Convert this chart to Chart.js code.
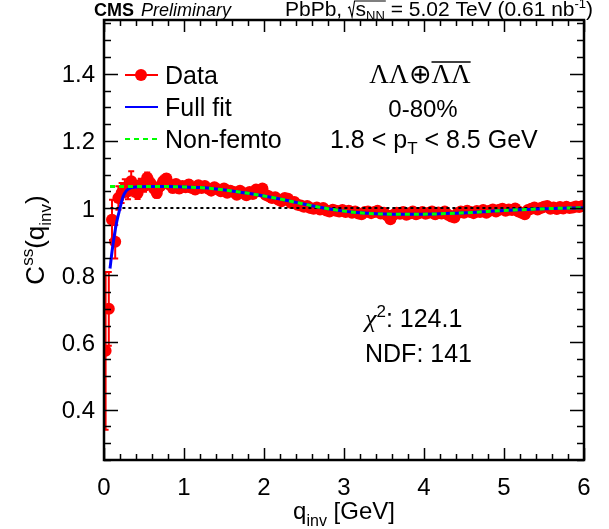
<!DOCTYPE html>
<html>
<head>
<meta charset="utf-8">
<script src="https://cdn.jsdelivr.net/npm/chart.js@4.4.0/dist/chart.umd.min.js"></script>
<style>
html, body { margin: 0; padding: 0; background: #fff; }
</style>
</head>
<body>
<canvas id="chart" width="609" height="529"></canvas>
<script>
// bin centres (GeV) and correlation values
const qInv = [
  0.02, 0.06, 0.10, 0.14, 0.18, 0.22, 0.26, 0.30, 0.34, 0.38,
  0.42, 0.46, 0.50, 0.54, 0.58, 0.62, 0.66, 0.70, 0.74, 0.78,
  0.82, 0.86, 0.90, 0.94, 0.98, 1.02, 1.06, 1.10, 1.14, 1.18,
  1.22, 1.26, 1.30, 1.34, 1.38, 1.42, 1.46, 1.50, 1.54, 1.58,
  1.62, 1.66, 1.70, 1.74, 1.78, 1.82, 1.86, 1.90, 1.94, 1.98,
  2.02, 2.06, 2.10, 2.14, 2.18, 2.22, 2.26, 2.30, 2.34, 2.38,
  2.42, 2.46, 2.50, 2.54, 2.58, 2.62, 2.66, 2.70, 2.74, 2.78,
  2.82, 2.86, 2.90, 2.94, 2.98, 3.02, 3.06, 3.10, 3.14, 3.18,
  3.22, 3.26, 3.30, 3.34, 3.38, 3.42, 3.46, 3.50, 3.54, 3.58,
  3.62, 3.66, 3.70, 3.74, 3.78, 3.82, 3.86, 3.90, 3.94, 3.98,
  4.02, 4.06, 4.10, 4.14, 4.18, 4.22, 4.26, 4.30, 4.34, 4.38,
  4.42, 4.46, 4.50, 4.54, 4.58, 4.62, 4.66, 4.70, 4.74, 4.78,
  4.82, 4.86, 4.90, 4.94, 4.98, 5.02, 5.06, 5.10, 5.14, 5.18,
  5.22, 5.26, 5.30, 5.34, 5.38, 5.42, 5.46, 5.50, 5.54, 5.58,
  5.62, 5.66, 5.70, 5.74, 5.78, 5.82, 5.86, 5.90, 5.94, 5.98
];
const cValues = [
  0.575, 0.700, 0.965, 0.900, 1.030, 1.045, 1.060, 1.050, 1.080, 1.055,
  1.045, 1.070, 1.065, 1.090, 1.075, 1.060, 1.045, 1.065, 1.080, 1.088,
  1.070, 1.060, 1.072, 1.058, 1.066, 1.062, 1.070, 1.060, 1.055, 1.068,
  1.060, 1.066, 1.058, 1.052, 1.062, 1.056, 1.050, 1.058, 1.046, 1.052,
  1.048, 1.040, 1.052, 1.045, 1.038, 1.048, 1.042, 1.055, 1.050, 1.058,
  1.040, 1.035, 1.030, 1.032, 1.025, 1.020, 1.030, 1.028, 1.015, 1.018,
  1.010, 1.008, 1.004, 1.006, 1.000, 0.998, 1.002, 0.996, 1.000, 0.993,
  0.990, 0.995, 0.992, 0.990, 0.994, 0.988, 0.992, 0.986, 0.990, 0.984,
  0.982, 0.988, 0.990, 0.985, 0.988, 0.992, 0.984, 0.986, 0.978, 0.967,
  0.980, 0.986, 0.983, 0.988, 0.980, 0.984, 0.990, 0.982, 0.985, 0.988,
  0.983, 0.986, 0.990, 0.982, 0.987, 0.984, 0.990, 0.980, 0.975, 0.972,
  0.985, 0.990, 0.986, 0.992, 0.988, 0.985, 0.991, 0.988, 0.994, 0.986,
  0.992, 0.996, 0.990, 0.995, 0.998, 0.992, 0.996, 0.994, 0.999, 0.990,
  0.986, 0.982, 0.994, 0.998, 1.002, 0.996, 1.000, 1.004, 1.006, 0.998,
  1.002, 0.997, 1.003, 0.999, 1.004, 1.000, 1.002, 1.005, 1.003, 1.006
];
const cErrors = [
  0.235, 0.110, 0.060, 0.050, 0.035, 0.030, 0.026, 0.024, 0.030, 0.020,
  0.018, 0.017, 0.016, 0.016, 0.015, 0.015, 0.014, 0.014, 0.014, 0.013,
  0.013, 0.013, 0.012, 0.012, 0.012, 0.012, 0.012, 0.011, 0.011, 0.011,
  0.011, 0.011, 0.011, 0.011, 0.010, 0.010, 0.010, 0.010, 0.010, 0.010,
  0.010, 0.010, 0.010, 0.010, 0.010, 0.010, 0.010, 0.010, 0.010, 0.010,
  0.010, 0.010, 0.010, 0.010, 0.009, 0.009, 0.009, 0.009, 0.009, 0.009,
  0.009, 0.009, 0.009, 0.009, 0.009, 0.009, 0.009, 0.009, 0.009, 0.009,
  0.009, 0.009, 0.009, 0.009, 0.009, 0.009, 0.009, 0.009, 0.009, 0.009,
  0.009, 0.009, 0.009, 0.009, 0.009, 0.009, 0.009, 0.009, 0.009, 0.009,
  0.009, 0.009, 0.009, 0.009, 0.009, 0.009, 0.009, 0.009, 0.009, 0.009,
  0.009, 0.009, 0.009, 0.009, 0.009, 0.009, 0.009, 0.009, 0.009, 0.009,
  0.009, 0.009, 0.009, 0.009, 0.009, 0.009, 0.009, 0.009, 0.009, 0.009,
  0.009, 0.009, 0.009, 0.009, 0.009, 0.009, 0.009, 0.009, 0.009, 0.009,
  0.009, 0.009, 0.009, 0.009, 0.009, 0.009, 0.009, 0.009, 0.009, 0.009,
  0.009, 0.009, 0.009, 0.009, 0.009, 0.009, 0.009, 0.009, 0.009, 0.009
];

// fit curves
const fullFitX = [0.075, 0.10, 0.13, 0.16, 0.20, 0.24, 0.28, 0.33, 0.40, 0.60, 0.80, 1.00, 1.20, 1.40, 1.60, 1.80,
  2.00, 2.20, 2.40, 2.60, 2.80, 3.00, 3.20, 3.40, 3.60, 3.80, 4.00, 4.20, 4.40, 4.60, 4.80, 5.00, 5.20, 5.40, 5.60, 5.80, 6.00];
const fullFitY = [0.820, 0.870, 0.920, 0.960, 1.000, 1.035, 1.052, 1.060, 1.063, 1.064, 1.064, 1.063, 1.061, 1.057, 1.051, 1.044,
  1.036, 1.027, 1.017, 1.007, 0.998, 0.991, 0.986, 0.983, 0.982, 0.982, 0.982, 0.983, 0.985, 0.987, 0.990, 0.993, 0.995, 0.997, 0.999, 1.000, 1.001];
const nonFemtoX = [0.075, 0.20, 0.40, 0.60, 0.80, 1.00, 1.20, 1.40, 1.60, 1.80,
  2.00, 2.20, 2.40, 2.60, 2.80, 3.00, 3.20, 3.40, 3.60, 3.80, 4.00, 4.20, 4.40, 4.60, 4.80, 5.00, 5.20, 5.40, 5.60, 5.80, 6.00];
const nonFemtoY = [1.064, 1.064, 1.064, 1.064, 1.064, 1.063, 1.061, 1.057, 1.051, 1.044,
  1.036, 1.027, 1.017, 1.007, 0.998, 0.991, 0.986, 0.983, 0.982, 0.982, 0.982, 0.983, 0.985, 0.987, 0.990, 0.993, 0.995, 0.997, 0.999, 1.000, 1.001];
const unityX = [0.08, 6.0];
const unityY = [1.0, 1.0];

// axis labels
const xTickValues = [0, 1, 2, 3, 4, 5, 6];
const xTickLabels = ['0', '1', '2', '3', '4', '5', '6'];
const yTickValues = [0.4, 0.6, 0.8, 1.0, 1.2, 1.4];
const yTickLabels = ['0.4', '0.6', '0.8', '1', '1.2', '1.4'];

const SANS = '"Liberation Sans", Arial, Helvetica, sans-serif';
const SERIF = '"Liberation Serif", "Times New Roman", serif';

const toPoints = (xs, ys) => xs.map((x, i) => ({ x: x, y: ys[i] }));

// draw a run of text pieces: [text, font, dy]
function rich(ctx, parts, x, y, align) {
  let total = 0;
  const widths = parts.map(p => { ctx.font = p[1]; const w = ctx.measureText(p[0]).width; total += w; return w; });
  if (align === 'center') x -= total / 2;
  if (align === 'right') x -= total;
  ctx.textAlign = 'left';
  ctx.textBaseline = 'alphabetic';
  parts.forEach((p, i) => {
    ctx.font = p[1];
    ctx.fillText(p[0], x, y + (p[2] || 0));
    x += widths[i];
  });
  return x;
}

const rootStyle = {
  id: 'rootStyle',
  beforeDatasetsDraw(chart) {
    const ctx = chart.ctx, xs = chart.scales.x, ys = chart.scales.y, a = chart.chartArea;
    ctx.save();
    ctx.beginPath();
    ctx.rect(a.left, a.top, a.right - a.left, a.bottom - a.top);
    ctx.clip();
    ctx.strokeStyle = '#ff0000';
    ctx.lineWidth = 2;
    qInv.forEach((q, i) => {
      const px = xs.getPixelForValue(q);
      const top = ys.getPixelForValue(cValues[i] + cErrors[i]);
      const bot = ys.getPixelForValue(cValues[i] - cErrors[i]);
      ctx.beginPath();
      ctx.moveTo(px, top); ctx.lineTo(px, bot);
      ctx.moveTo(px - 3, top); ctx.lineTo(px + 3, top);
      ctx.moveTo(px - 3, bot); ctx.lineTo(px + 3, bot);
      ctx.stroke();
    });
    ctx.restore();
  },
  afterDatasetsDraw(chart) {
    const ctx = chart.ctx, xs = chart.scales.x, ys = chart.scales.y, a = chart.chartArea;
    ctx.save();
    ctx.fillStyle = '#000';
    ctx.strokeStyle = '#000';

    // ticks inside the frame on all four sides
    ctx.lineWidth = 1.5;
    ctx.beginPath();
    for (let k = 0; k <= 30; k++) {
      const v = k * 0.2;
      const px = Math.round(xs.getPixelForValue(v)) + 0.5;
      const len = (k % 5 === 0) ? 12 : 6;
      ctx.moveTo(px, a.bottom); ctx.lineTo(px, a.bottom - len);
      ctx.moveTo(px, a.top); ctx.lineTo(px, a.top + len);
    }
    for (let k = 5; k <= 31; k++) {
      const v = k * 0.05;
      const py = Math.round(ys.getPixelForValue(v)) + 0.5;
      const len = (k % 4 === 0) ? 14 : 7;
      ctx.moveTo(a.left, py); ctx.lineTo(a.left + len, py);
      ctx.moveTo(a.right, py); ctx.lineTo(a.right - len, py);
    }
    ctx.stroke();

    // frame
    ctx.lineWidth = 2.5;
    ctx.strokeRect(a.left, a.top, a.right - a.left, a.bottom - a.top);

    // tick labels
    ctx.font = `24px ${SANS}`;
    ctx.textAlign = 'center';
    ctx.textBaseline = 'alphabetic';
    xTickValues.forEach((v, i) => ctx.fillText(xTickLabels[i], xs.getPixelForValue(v), 495));
    ctx.textAlign = 'right';
    yTickValues.forEach((v, i) => ctx.fillText(yTickLabels[i], 95, ys.getPixelForValue(v) + 8.5));

    // axis titles
    rich(ctx, [['q', `24px ${SANS}`, 0], ['inv', `16px ${SANS}`, 7], [' [GeV]', `24px ${SANS}`, 0]], (a.left + a.right) / 2, 519, 'center');
    ctx.save();
    ctx.translate(44, (a.top + a.bottom) / 2);
    ctx.rotate(-Math.PI / 2);
    rich(ctx, [['C', `26px ${SANS}`, 0], ['ss', `17px ${SANS}`, -11], ['(q', `26px ${SANS}`, 0], ['inv', `17px ${SANS}`, 7], [')', `26px ${SANS}`, 0]], 0, 0, 'center');
    ctx.restore();

    // header
    rich(ctx, [['CMS', `bold 18px ${SANS}`, 0]], 94, 16);
    rich(ctx, [['Preliminary', `italic 18px ${SANS}`, 0]], 141, 16);
    let hx = rich(ctx, [['PbPb, ', `21px ${SANS}`, 0]], 285, 16);
    ctx.font = `21px ${SANS}`;
    const sW = ctx.measureText('s').width;
    ctx.font = `13px ${SANS}`;
    const nnW = ctx.measureText('NN').width;
    ctx.lineWidth = 1.1;
    ctx.beginPath();
    ctx.moveTo(hx, 8); ctx.lineTo(hx + 1.5, 7); ctx.lineTo(hx + 4, 17); ctx.lineTo(hx + 6.5, 1);
    ctx.lineTo(hx + 7.5 + sW + nnW + 1, 1);
    ctx.stroke();
    rich(ctx, [['s', `21px ${SANS}`, 0], ['NN', `13px ${SANS}`, 4], [' = 5.02 TeV (0.61 nb', `21px ${SANS}`, 0], ['-1', `13px ${SANS}`, -8], [')', `21px ${SANS}`, 0]], hx + 7.5, 16);

    // legend
    const legY = [75, 107, 139];
    ctx.lineWidth = 2;
    ctx.strokeStyle = '#ff0000';
    ctx.beginPath(); ctx.moveTo(125, legY[0]); ctx.lineTo(158, legY[0]); ctx.stroke();
    ctx.fillStyle = '#ff0000';
    ctx.beginPath(); ctx.arc(141, legY[0], 6, 0, Math.PI * 2); ctx.fill();
    ctx.strokeStyle = '#0000ff';
    ctx.beginPath(); ctx.moveTo(125, legY[1]); ctx.lineTo(158, legY[1]); ctx.stroke();
    ctx.strokeStyle = '#00ff00';
    ctx.setLineDash([5, 4]);
    ctx.beginPath(); ctx.moveTo(125, legY[2]); ctx.lineTo(158, legY[2]); ctx.stroke();
    ctx.setLineDash([]);
    ctx.fillStyle = '#000';
    ctx.strokeStyle = '#000';
    ['Data', 'Full fit', 'Non-femto'].forEach((t, i) => rich(ctx, [[t, `25px ${SANS}`, 0]], 165, legY[i] + 9));

    // annotations
    const lamEnd = rich(ctx, [['ΛΛ⊕', `27px ${SERIF}`, 0], ['ΛΛ', `27px ${SERIF}`, 0]], 420, 83, 'center');
    ctx.font = `27px ${SERIF}`;
    const lamW = ctx.measureText('ΛΛ').width;
    ctx.lineWidth = 1.3;
    ctx.beginPath(); ctx.moveTo(lamEnd - lamW, 62); ctx.lineTo(lamEnd, 62); ctx.stroke();
    rich(ctx, [['0-80%', `24px ${SANS}`, 0]], 423, 117, 'center');
    rich(ctx, [['1.8 < p', `25px ${SANS}`, 0], ['T', `17px ${SANS}`, 6], [' < 8.5 GeV', `25px ${SANS}`, 0]], 330, 148);
    rich(ctx, [['χ', `italic 26px ${SERIF}`, 0], ['2', `17px ${SANS}`, -10], [': 124.1', `25px ${SANS}`, 0]], 365, 327);
    rich(ctx, [['NDF: 141', `25px ${SANS}`, 0]], 365, 362);
    ctx.restore();
  }
};

new Chart(document.getElementById('chart').getContext('2d'), {
  type: 'scatter',
  data: {
    datasets: [
      {
        label: 'Data',
        data: toPoints(qInv, cValues),
        backgroundColor: '#ff0000',
        borderColor: '#ff0000',
        pointRadius: 6,
        pointBorderWidth: 0,
        showLine: false,
        order: 4
      },
      {
        label: 'unity',
        data: toPoints(unityX, unityY),
        showLine: true,
        borderColor: '#000',
        borderWidth: 2,
        borderDash: [3, 3],
        pointRadius: 0,
        order: 3
      },
      {
        label: 'Full fit',
        data: toPoints(fullFitX, fullFitY),
        showLine: true,
        borderColor: '#0000ff',
        borderWidth: 3,
        cubicInterpolationMode: 'monotone',
        pointRadius: 0,
        order: 2
      },
      {
        label: 'Non-femto',
        data: toPoints(nonFemtoX, nonFemtoY),
        showLine: true,
        borderColor: '#00ff00',
        borderWidth: 3,
        borderDash: [5, 4],
        cubicInterpolationMode: 'monotone',
        pointRadius: 0,
        order: 1
      }
    ]
  },
  options: {
    responsive: false,
    animation: false,
    devicePixelRatio: 1,
    layout: { padding: { left: 104, right: 25, top: 20, bottom: 69 } },
    scales: {
      x: { type: 'linear', min: 0, max: 6, display: false },
      y: { type: 'linear', min: 0.25, max: 1.56, display: false }
    },
    plugins: { legend: { display: false }, tooltip: { enabled: false } }
  },
  plugins: [rootStyle]
});
</script>
</body>
</html>
